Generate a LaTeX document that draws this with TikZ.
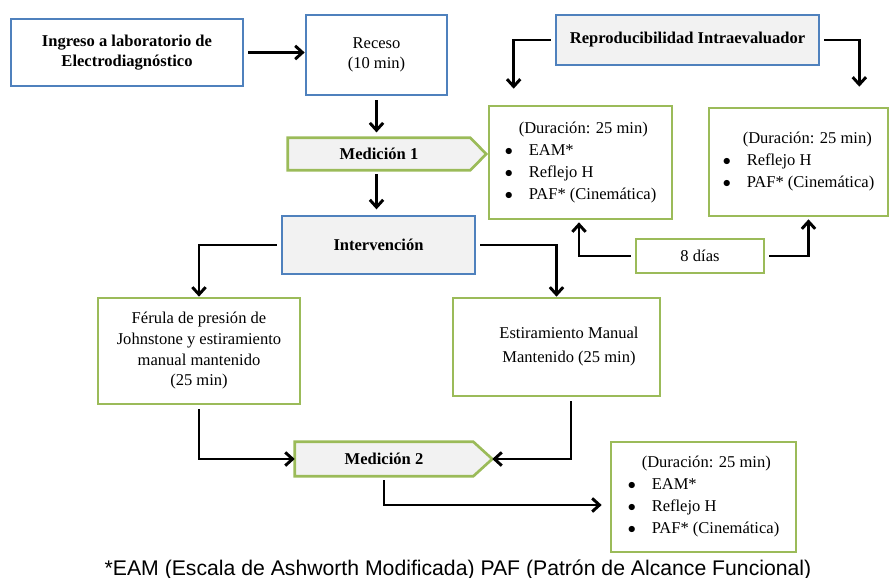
\documentclass[tikz,border=0pt]{standalone}
\usepackage{fontspec}
\setmainfont{Liberation Serif}
\newfontfamily\arialfont{Liberation Sans}
\usetikzlibrary{arrows.meta,calc,backgrounds}
\definecolor{boxblue}{RGB}{79,129,189}
\definecolor{boxgreen}{RGB}{155,187,89}
\definecolor{boxgray}{RGB}{242,242,242}
\newcommand{\itm}{\makebox[18pt][l]{$\bullet$}}

\begin{document}
\begin{tikzpicture}[x=0.75pt,y=-0.75pt,
  font=\fontsize{12.4}{15.5}\selectfont,
  sz/.style 2 args={minimum width=#1*0.75pt,minimum height=#2*0.75pt},
  bbox/.style={draw=boxblue,line width=2pt,inner sep=2pt,align=center},
  gbox/.style={draw=boxgreen,line width=2pt,inner sep=2pt,align=center},
  grey/.style={fill=boxgray},
  lst/.style={align=left,font=\fontsize{12.4}{16.5}\selectfont},
  pent/.style={draw=boxgreen,fill=boxgray,line width=2pt,line join=miter},
  arr/.style={-{Straight Barb[length=5.5pt,width=10pt]},line width=2.2pt,shorten <=3pt}]
\useasboundingbox (0,0) rectangle (889,578);

% left column
\node[bbox,sz={232}{67}] (ingreso) at (127,52.5) {\textbf{Ingreso a laboratorio de}\\\textbf{Electrodiagnóstico}};
\node[bbox,sz={141}{80}] (receso) at (376.5,55) {Receso\\(10 min)};
\node[sz={182}{32},inner sep=0pt] (med1) at (379,154) {\textbf{Medición 1}};
\coordinate (m1tip) at ($(med1.east)+(16,0)$);
\node[bbox,grey,sz={193}{58}] (interv) at (378.5,245) {\textbf{Intervención}};
\node[gbox,sz={202}{106}] (ferula) at (199,351) {Férula de presión de\\Johnstone y estiramiento\\manual mantenido\\(25 min)};
\node[gbox,sz={207}{98}] (estir) at (556.5,347) {};
\node[align=center,font=\fontsize{12.4}{18}\selectfont] (estirtxt) at ($(estir.center)+(12.5,0)$) {Estiramiento Manual\\Mantenido (25 min)};
\node[sz={178}{34},inner sep=0pt] (med2) at (384,459) {\textbf{Medición 2}};
\coordinate (m2tip) at ($(med2.east)+(19,0)$);
\node[gbox,lst,sz={185}{110}] (dur3) at (703.5,497) {\hspace*{10.5pt}(Duración: 25 min)\\\itm EAM*\\\itm Reflejo H\\\itm PAF* (Cinemática)};

% right column
\node[bbox,grey,sz={263}{50}] (repro) at (687.5,40) {\textbf{Reproducibilidad Intraevaluador}};
\node[gbox,lst,sz={183}{113}] (dur1) at (580.5,162.5) {\hspace*{10.5pt}(Duración: 25 min)\\\itm EAM*\\\itm Reflejo H\\\itm PAF* (Cinemática)};
\node[gbox,lst,sz={179}{108}] (dur2) at (798.5,162) {\hspace*{15pt}(Duración: 25 min)\\\itm Reflejo H\\\itm PAF* (Cinemática)};
\node[gbox,sz={128}{34}] (dias) at (700,256) {8 días};

\node[font=\arialfont\fontsize{15.9}{18}\selectfont,anchor=base,inner sep=0pt] (nota) at (458,575) {*EAM (Escala de Ashworth Modificada) PAF (Patrón de Alcance Funcional)};

\begin{scope}[on background layer]
\draw[pent] (med1.north west) -- (med1.north east) -- (m1tip) -- (med1.south east) -- (med1.south west) -- cycle;
\draw[pent] (med2.north west) -- (med2.north east) -- (m2tip) -- (med2.south east) -- (med2.south west) -- cycle;
\end{scope}

% connectors
\draw[arr] (ingreso.east) -- (ingreso.east -| receso.west);
\draw[arr,shorten >=4pt] (receso.south) -- (receso.south |- med1.north);
\draw[arr,shorten >=4pt] (receso.south |- med1.south) -- (receso.south |- interv.north);
\draw[arr] (interv.west) -| (ferula.north);
\draw[arr] (interv.east) -| (estir.north);
\draw[arr] (ferula.south) |- (med2.west);
\draw[arr] ($(estir.south)+(14.5,0)$) |- (m2tip);
\draw[arr] (med2.south) |- ($(dur3.west)+(-8,8)$);
\draw[arr] (repro.west) -| ($(dur1.north west)+(26,-16)$);
\draw[arr] (repro.east) -| ($(dur2.north east)+(-30,-20)$);
\draw[arr] (dias.west) -| ($(dur1.south)+(-1.5,2)$);
\draw[arr] (dias.east) -| ($(dur2.south)+(10,2)$);
\end{tikzpicture}
\end{document}
